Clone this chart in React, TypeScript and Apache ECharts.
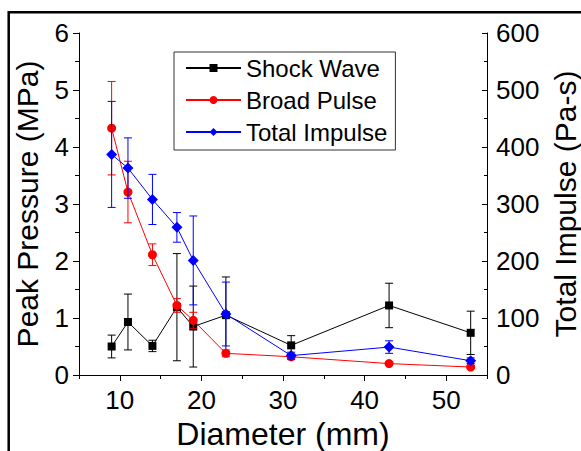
import React, { useEffect, useRef } from "react";
import * as echarts from "echarts";

const diameters = [9, 11, 14, 17, 19, 23, 31, 43, 53];
const shockWave = [0.5, 0.93, 0.51, 1.19, 0.85, 1.05, 0.52, 1.22, 0.74];
const shockErr = [0.2, 0.49, 0.1, 0.94, 0.71, 0.67, 0.17, 0.39, 0.38];
const broadPulse = [4.33, 3.21, 2.11, 1.22, 0.96, 0.38, 0.32, 0.2, 0.14];
const broadErr = [0.82, 0.54, 0.19, 0.12, 0.14, 0.06, 0.05, 0.02, 0.02];
const totalImpulse = [387, 363, 308, 259, 201, 107, 34, 49, 25];
const impulseErr = [93, 53, 44, 26, 78, 56, 6, 11, 5];
const xLabels = [10, 20, 30, 40, 50];

const FONT = "'Liberation Sans', Arial, sans-serif";

function errSeries(name: string, vals: number[], errs: number[], color: string, yIdx: number, z: number) {
  return {
    type: "custom",
    name: name + " err",
    yAxisIndex: yIdx,
    z,
    silent: true,
    data: diameters.map((d, i) => [d, vals[i] - errs[i], vals[i] + errs[i]]),
    renderItem: (params: any, api: any) => {
      const lo = api.coord([api.value(0), api.value(1)]);
      const hi = api.coord([api.value(0), api.value(2)]);
      const w = 4;
      const style = { stroke: color, lineWidth: 1 };
      return {
        type: "group",
        children: [
          { type: "line", shape: { x1: lo[0], y1: lo[1], x2: hi[0], y2: hi[1] }, style },
          { type: "line", shape: { x1: lo[0] - w, y1: lo[1], x2: lo[0] + w, y2: lo[1] }, style },
          { type: "line", shape: { x1: hi[0] - w, y1: hi[1], x2: hi[0] + w, y2: hi[1] }, style },
        ],
      };
    },
  };
}

export default function App() {
  const ref = useRef<HTMLDivElement>(null);
  useEffect(() => {
    if (!ref.current) return;
    const chart = echarts.init(ref.current, null, { renderer: "svg" });
    const axisLine = { show: true, lineStyle: { color: "#000", width: 1 } };
    chart.setOption({
      animation: false,
      backgroundColor: "#fff",
      textStyle: { fontFamily: FONT },
      graphic: [
        {
          type: "rect",
          shape: { x: 8.7, y: 12.2, width: 700, height: 600 },
          style: { fill: "none", stroke: "#000", lineWidth: 2.5 },
          z: 100,
        },
      ],
      grid: { left: 79, right: 94, top: 33, bottom: 76, containLabel: false, outerBoundsMode: "none" },
      legend: {
        orient: "vertical",
        left: 174,
        top: 52,
        borderColor: "#333",
        borderWidth: 1,
        padding: [4, 8, 6, 11],
        itemGap: 8,
        itemWidth: 55,
        itemHeight: 10,
        textStyle: { fontSize: 24, color: "#000", fontFamily: FONT },
        data: ["Shock Wave", "Broad Pulse", "Total Impulse"],
      },
      xAxis: [
        {
          type: "value",
          min: 5,
          max: 55,
          interval: 5,
          axisLine,
          splitLine: { show: false },
          axisTick: { show: true, length: 4, lineStyle: { color: "#000" } },
          axisLabel: {
            fontSize: 26,
            color: "#000",
            margin: 12,
            fontFamily: FONT,
            formatter: (v: number) => (xLabels.indexOf(v) >= 0 ? String(v) : ""),
          },
          name: "Diameter (mm)",
          nameLocation: "middle",
          nameGap: 38,
          nameTextStyle: { fontSize: 32, color: "#000", fontFamily: FONT },
        },
        {
          type: "value",
          min: 5,
          max: 55,
          position: "bottom",
          axisLine: { show: false },
          splitLine: { show: false },
          axisLabel: { show: false },
          axisTick: { show: true, length: 6, customValues: xLabels, lineStyle: { color: "#000" } },
        },
      ],
      yAxis: [
        {
          type: "value",
          min: 0,
          max: 6,
          interval: 1,
          position: "left",
          axisLine,
          splitLine: { show: false },
          axisTick: { show: true, length: 6, lineStyle: { color: "#000" } },
          minorTick: { show: true, splitNumber: 2, length: 4, lineStyle: { color: "#000" } },
          axisLabel: { fontSize: 26, color: "#000", margin: 10, fontFamily: FONT },
          name: "Peak Pressure (MPa)",
          nameLocation: "middle",
          nameGap: 37,
          nameRotate: 90,
          nameTextStyle: { fontSize: 30, color: "#000", fontFamily: FONT },
        },
        {
          type: "value",
          min: 0,
          max: 600,
          interval: 100,
          position: "right",
          axisLine,
          splitLine: { show: false },
          axisTick: { show: true, inside: true, length: 5, lineStyle: { color: "#000" } },
          minorTick: { show: true, splitNumber: 2, length: 3, lineStyle: { color: "#000" } },
          axisLabel: { fontSize: 26, color: "#000", margin: 9, fontFamily: FONT },
          name: "Total Impulse (Pa-s)",
          nameLocation: "middle",
          nameGap: 63,
          nameRotate: 90,
          nameTextStyle: { fontSize: 30, color: "#000", fontFamily: FONT },
        },
      ],
      series: [
        errSeries("Shock Wave", shockWave, shockErr, "#000", 0, 2),
        {
          type: "line",
          name: "Shock Wave",
          yAxisIndex: 0,
          z: 3,
          data: diameters.map((d, i) => [d, shockWave[i]]),
          symbol: "rect",
          symbolSize: 8,
          lineStyle: { color: "#000", width: 1 },
          itemStyle: { color: "#000" },
        },
        errSeries("Broad Pulse", broadPulse, broadErr, "#ff0000", 0, 4),
        {
          type: "line",
          name: "Broad Pulse",
          yAxisIndex: 0,
          z: 5,
          data: diameters.map((d, i) => [d, broadPulse[i]]),
          symbol: "circle",
          symbolSize: 9,
          lineStyle: { color: "#ff0000", width: 1 },
          itemStyle: { color: "#ff0000" },
        },
        errSeries("Total Impulse", totalImpulse, impulseErr, "#0000ff", 1, 6),
        {
          type: "line",
          name: "Total Impulse",
          yAxisIndex: 1,
          z: 7,
          data: diameters.map((d, i) => [d, totalImpulse[i]]),
          symbol: "diamond",
          symbolSize: 11,
          lineStyle: { color: "#0000ff", width: 1 },
          itemStyle: { color: "#0000ff" },
        },
      ],
    });
    return () => chart.dispose();
  }, []);
  return <div ref={ref} style={{ position: "fixed", left: 0, top: 0, width: 581, height: 451 }} />;
}
